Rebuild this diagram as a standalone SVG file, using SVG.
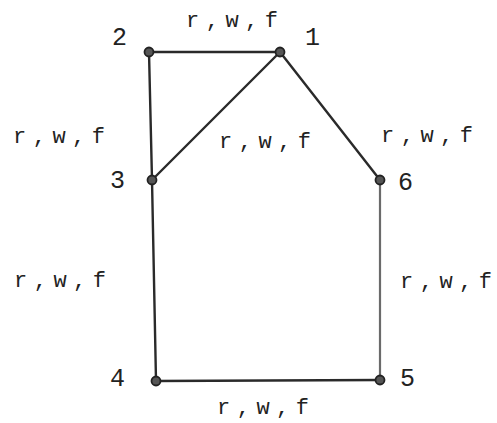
<svg xmlns="http://www.w3.org/2000/svg" width="497" height="423" viewBox="0 0 497 423">
<style>
.e{stroke:#2a2a2a;stroke-width:2.4;fill:none;stroke-linecap:round}
.el{stroke:#6a6a6a;stroke-width:2.2;fill:none;stroke-linecap:round}
.n{fill:#555;stroke:#222;stroke-width:1.8}
.lab{font-family:"Liberation Mono",monospace;font-size:22px;letter-spacing:6.5px;fill:#222}
.num{font-family:"Liberation Mono",monospace;font-size:25px;fill:#222}
</style>
<rect width="497" height="423" fill="#fff"/>
<g id="connectors">
<line class="e" x1="149" y1="52" x2="280" y2="52"/>
<line class="e" x1="149" y1="52" x2="152" y2="180"/>
<line class="e" x1="280" y1="52" x2="152" y2="180"/>
<line class="e" x1="280" y1="52" x2="380" y2="180"/>
<line class="e" x1="152" y1="180" x2="156" y2="381"/>
<line class="el" x1="380" y1="180" x2="380" y2="380"/>
<line class="e" x1="156" y1="381" x2="380" y2="380"/>
</g>
<g id="edge-labels">
<text class="lab" x="186" y="27">r,w,f</text>
<text class="lab" x="13" y="143">r,w,f</text>
<text class="lab" x="219" y="148">r,w,f</text>
<text class="lab" x="381" y="142">r,w,f</text>
<text class="lab" x="14" y="287">r,w,f</text>
<text class="lab" x="400" y="288">r,w,f</text>
<text class="lab" x="217" y="414">r,w,f</text>
</g>
<g id="node1"><circle class="n" cx="280" cy="52" r="4.5"/><text class="num" x="305" y="45">1</text></g>
<g id="node2"><circle class="n" cx="149" cy="52" r="4.5"/><text class="num" x="112" y="45">2</text></g>
<g id="node3"><circle class="n" cx="152" cy="180" r="4.5"/><text class="num" x="110" y="188">3</text></g>
<g id="node4"><circle class="n" cx="156" cy="381" r="4.5"/><text class="num" x="110" y="386">4</text></g>
<g id="node5"><circle class="n" cx="380" cy="380" r="4.5"/><text class="num" x="400" y="386">5</text></g>
<g id="node6"><circle class="n" cx="380" cy="180" r="4.5"/><text class="num" x="398" y="190">6</text></g>
</svg>
